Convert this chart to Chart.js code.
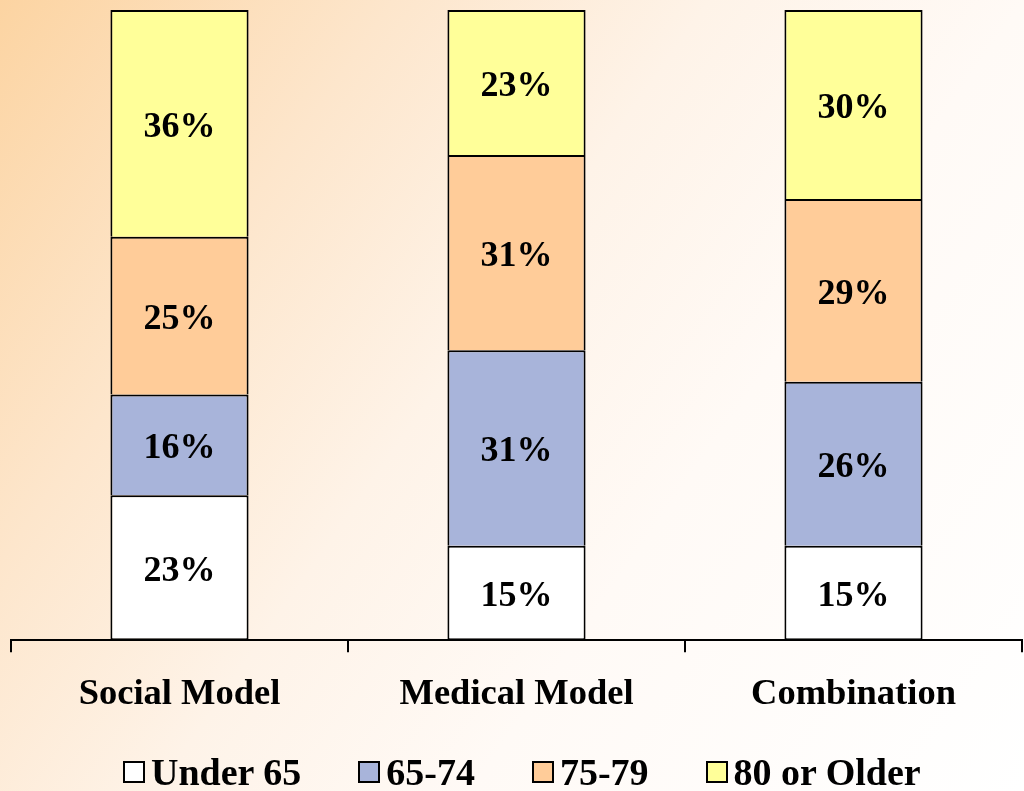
<!DOCTYPE html>
<html>
<head>
<meta charset="utf-8">
<script src="https://cdn.jsdelivr.net/npm/chart.js@4.4.1/dist/chart.umd.min.js"></script>
<style>
  html, body { margin: 0; padding: 0; }
  body {
    width: 1024px; height: 791px; overflow: hidden; position: relative;
    background: linear-gradient(125deg, #fcd4a2 0%, #fde6cc 25%, #fef3e8 45%, #fffaf6 65%, #ffffff 100%);
    font-family: "Liberation Serif", "Times New Roman", serif;
  }
  #wrap { position: absolute; left: 0; top: 0; width: 1024px; height: 791px; }
  #legend {
    position: absolute; left: 123px; top: 752px; display: flex; align-items: center;
    font-weight: bold; font-size: 38px; line-height: 40px; color: #000;
  }
  .item { display: flex; align-items: center; margin-right: 57px; }
  .item:last-child { margin-right: 0; }
  .box { width: 18px; height: 18px; border: 2px solid #000; margin-right: 6px; }
</style>
</head>
<body>
<div id="wrap"><canvas id="chart" width="1024" height="791"></canvas></div>
<div id="legend"></div>
<script>
// data (percent of each model)
const categories = ['Social Model', 'Medical Model', 'Combination'];
const seriesNames = ['Under 65', '65-74', '75-79', '80 or Older'];
const under65 = [23, 15, 15];
const age65to74 = [16, 31, 26];
const age75to79 = [25, 31, 29];
const age80plus = [36, 23, 30];
const seriesColors = ['#ffffff', '#a8b4da', '#ffcc99', '#ffff99'];

const allValues = [under65, age65to74, age75to79, age80plus];

const datasets = allValues.map((vals, i) => ({
    label: seriesNames[i],
    data: vals,
    backgroundColor: seriesColors[i],
    borderColor: '#000',
    borderWidth: 2,
    borderSkipped: i === 0 ? false : 'start', // avoid doubled lines between segments
    categoryPercentage: 1.0,
    barPercentage: 0.41
}));

// write the value in the middle of each segment
const segmentLabels = {
    id: 'segmentLabels',
    afterDatasetsDraw(chart) {
        const ctx = chart.ctx;
        ctx.save();
        ctx.font = 'bold 36px "Liberation Serif", "Times New Roman", serif';
        ctx.fillStyle = '#000';
        ctx.textAlign = 'center';
        ctx.textBaseline = 'middle';
        chart.data.datasets.forEach((ds, i) => {
            const meta = chart.getDatasetMeta(i);
            meta.data.forEach((bar, j) => {
                const y = (bar.y + bar.base) / 2;
                ctx.fillText(ds.data[j] + '%', bar.x, y + 4);
            });
        });
        ctx.restore();
    }
};

const ctx = document.getElementById('chart').getContext('2d');
new Chart(ctx, {
    type: 'bar',
    data: { labels: categories, datasets: datasets },
    options: {
        responsive: false,
        animation: false,
        layout: { padding: { left: 11, right: 2, top: 10, bottom: 55 } },
        plugins: { legend: { display: false }, tooltip: { enabled: false } },
        scales: {
            x: {
                stacked: true,
                grid: {
                    offset: true,
                    drawOnChartArea: false,
                    drawTicks: true,
                    tickLength: 12,
                    color: '#000',
                    lineWidth: 2
                },
                border: { display: true, color: '#000', width: 2 },
                ticks: {
                    color: '#000',
                    padding: 20,
                    font: { family: '"Liberation Serif", "Times New Roman", serif', size: 36.5, weight: 'bold' }
                }
            },
            y: {
                stacked: true,
                display: false,
                min: 0,
                max: 100
            }
        }
    },
    plugins: [segmentLabels]
});

// legend built from the same series arrays
const legend = document.getElementById('legend');
seriesNames.forEach((name, i) => {
    const item = document.createElement('div');
    item.className = 'item';
    item.innerHTML = `<span class="box" style="background:${seriesColors[i]}"></span><span>${name}</span>`;
    legend.appendChild(item);
});
</script>
</body>
</html>
